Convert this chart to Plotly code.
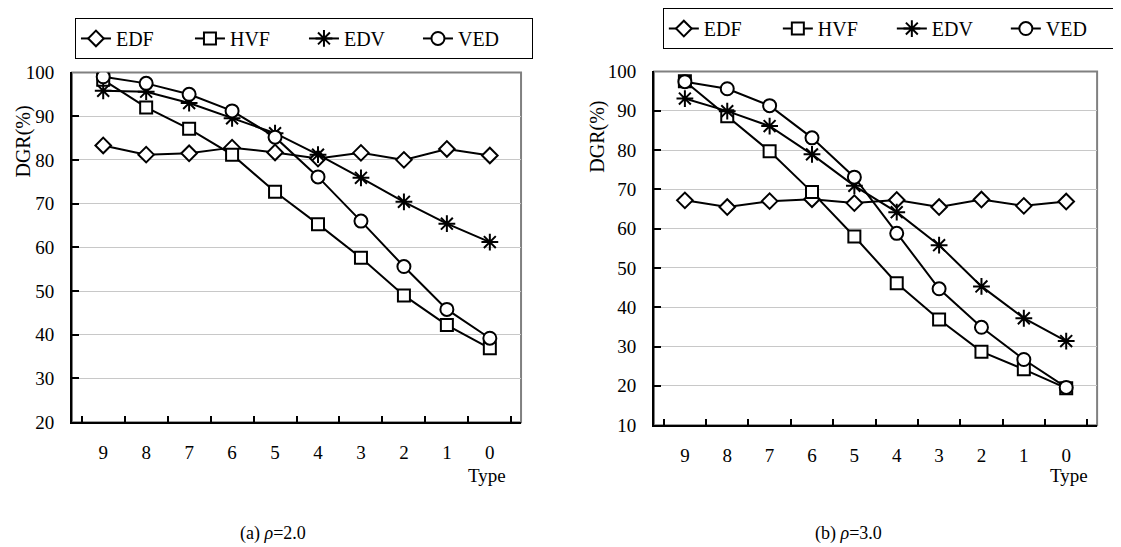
import plotly.graph_objects as go

types = ["9", "8", "7", "6", "5", "4", "3", "2", "1", "0"]
series_names = ["EDF", "HVF", "EDV", "VED"]

# (a) rho = 2.0
edf_a = [83.3, 81.2, 81.5, 82.8, 81.7, 80.3, 81.6, 80.0, 82.5, 81.0]
hvf_a = [98.3, 92.0, 87.1, 81.2, 72.7, 65.3, 57.6, 49.0, 42.2, 36.9]
edv_a = [95.8, 95.6, 93.0, 89.5, 86.1, 81.2, 75.9, 70.4, 65.4, 61.2]
ved_a = [99.0, 97.5, 95.0, 91.2, 85.2, 76.1, 66.0, 55.6, 45.8, 39.2]

# (b) rho = 3.0
edf_b = [67.2, 65.5, 67.0, 67.5, 66.5, 67.3, 65.5, 67.4, 65.8, 66.9]
hvf_b = [97.5, 88.6, 79.7, 69.3, 58.0, 46.1, 36.9, 28.7, 24.2, 19.4]
edv_b = [93.1, 89.9, 86.1, 78.9, 70.9, 64.2, 55.8, 45.3, 37.2, 31.4]
ved_b = [97.4, 95.6, 91.3, 83.1, 73.1, 58.8, 44.7, 34.9, 26.7, 19.6]

symbols = ["diamond", "square", "asterisk-open", "circle"]
mcolors = ["white", "white", "black", "white"]
msizes = [12, 12, 14, 13]

FONT = "Liberation Serif"

fig = go.Figure()

def add_panel(vals, xa, ya, legend):
    for name, v, sym, mc, ms in zip(series_names, vals, symbols, mcolors, msizes):
        fig.add_trace(go.Scatter(
            x=types, y=v, name=name, mode="lines+markers",
            xaxis=xa, yaxis=ya, legend=legend,
            line=dict(color="black", width=2),
            marker=dict(symbol=sym, size=ms, color=mc,
                        line=dict(color="black", width=2)),
        ))

add_panel([edf_a, hvf_a, edv_a, ved_a], "x", "y", "legend")
add_panel([edf_b, hvf_b, edv_b, ved_b], "x2", "y2", "legend2")

# page is 1121x547; default body margin of the HTML page is 8px
PAGE_W, PAGE_H = 1121, 547
OFF = 8
W, H = PAGE_W - OFF, PAGE_H - OFF
def px_x(p):
    return (p - OFF) / W
def px_y(p):
    return 1 - (p - OFF) / H

xcommon = dict(type="category", categoryorder="array", categoryarray=types,
               showgrid=False, showline=True, linecolor="black", linewidth=2,
               ticks="inside", tickson="boundaries", ticklen=6, tickwidth=1.5,
               tickcolor="black", ticklabelstandoff=12, automargin=False,
               tickfont=dict(family=FONT, size=19, color="black"),
               zeroline=False, fixedrange=True)
ycommon = dict(showgrid=True, gridcolor="#c8c8c8", gridwidth=1,
               showline=True, linecolor="black", linewidth=2,
               ticks="inside", ticklen=7, tickwidth=1.5, tickcolor="black",
               ticklabelstandoff=12, dtick=10, automargin=False,
               tickfont=dict(family=FONT, size=19, color="black"),
               zeroline=False, fixedrange=True)

legcommon = dict(orientation="h", xanchor="left", yanchor="top",
                 bgcolor="white", bordercolor="black", borderwidth=1,
                 font=dict(family=FONT, size=20, color="black"),
                 entrywidth=69, itemwidth=30, tracegroupgap=0)

def ann(text, x, y, size, angle=0):
    return dict(text=text, textangle=angle, xref="paper", yref="paper",
                x=px_x(x), y=px_y(y), xanchor="center", yanchor="middle",
                showarrow=False, font=dict(family=FONT, size=size, color="black"))

fig.update_layout(
    width=W, height=H,
    margin=dict(l=0, r=0, t=0, b=0),
    paper_bgcolor="white", plot_bgcolor="white",
    showlegend=True,
    xaxis=dict(domain=[px_x(73), px_x(529)], anchor="y", **xcommon),
    yaxis=dict(domain=[px_y(421), px_y(68)], anchor="x", range=[20, 100], **ycommon),
    xaxis2=dict(domain=[px_x(664), px_x(1114)], anchor="y2", **xcommon),
    yaxis2=dict(domain=[px_y(424), px_y(67)], anchor="x2", range=[10, 100], **ycommon),
    legend=dict(x=px_x(76), y=px_y(13), **legcommon),
    legend2=dict(x=px_x(673), y=px_y(3), **legcommon),
    shapes=[
        dict(type="rect", xref="x domain", yref="y domain", x0=0, x1=1, y0=0, y1=1,
             line=dict(color="#808080", width=2), layer="below"),
        dict(type="rect", xref="x2 domain", yref="y2 domain", x0=0, x1=1, y0=0, y1=1,
             line=dict(color="#808080", width=2), layer="below"),
    ],
    annotations=[
        ann("DGR(%)", 24, 138, 20, -90),
        ann("DGR(%)", 607, 133, 20, -90),
        ann("Type", 494, 475, 19),
        ann("Type", 1085, 475, 19),
        ann("(a) <i>ρ</i>=2.0", 277, 533, 18),
        ann("(b) <i>ρ</i>=3.0", 862, 533, 18),
    ],
)

fig.write_html("out.html")
